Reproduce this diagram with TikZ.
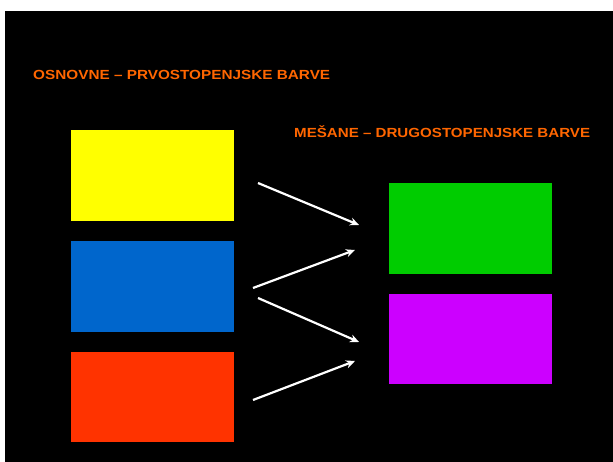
\documentclass[tikz,border=0pt]{standalone}
\usepackage{fontspec}
\setmainfont{Liberation Sans}
\usetikzlibrary{arrows.meta}
\definecolor{cyel}{HTML}{FFFF00}
\definecolor{cblue}{HTML}{0066CC}
\definecolor{cred}{HTML}{FF3300}
\definecolor{cgreen}{HTML}{00CC00}
\definecolor{cpurple}{HTML}{CC00FF}
\definecolor{corange}{HTML}{FF6600}
\tikzset{
  colbox/.style={fill=#1, draw=none, inner sep=0pt, minimum width=163pt, minimum height=90.5pt, anchor=north west},
  heading/.style={text=corange, font=\bfseries\fontsize{13.2}{15}\selectfont, inner sep=0pt, anchor=base west, xscale=1.16},
  arr/.style={draw=white, line width=2.2pt, -{Stealth[length=9pt,width=8pt]}}
}
\begin{document}
\begin{tikzpicture}[x=1pt,y=-1pt]
\useasboundingbox (0,0) rectangle (613,462);
\fill[white] (0,0) rectangle (613,462);
\fill[black] (5,11) rectangle (613,462);
\node[heading] (h1) at (33,79.3) {OSNOVNE – PRVOSTOPENJSKE BARVE};
\node[heading, xscale=0.987] (h2) at (294,137.3) {MEŠANE – DRUGOSTOPENJSKE BARVE};
\node[colbox=cyel] (yel) at (71,130) {};
\node[colbox=cblue] (blu) at (71,241) {};
\node[colbox=cred] (red) at (71,351.5) {};
\node[colbox=cgreen] (grn) at (388.5,183) {};
\node[colbox=cpurple] (pur) at (388.5,293.5) {};
\coordinate (a1s) at (258,183);
\coordinate (a1e) at (359,225);
\coordinate (a2s) at (253,288);
\coordinate (a2e) at (355,250);
\coordinate (a3s) at (258,298);
\coordinate (a3e) at (359,342);
\coordinate (a4s) at (253,400);
\coordinate (a4e) at (355,361);
\draw[arr] (a1s) -- (a1e);
\draw[arr] (a2s) -- (a2e);
\draw[arr] (a3s) -- (a3e);
\draw[arr] (a4s) -- (a4e);
\end{tikzpicture}
\end{document}
